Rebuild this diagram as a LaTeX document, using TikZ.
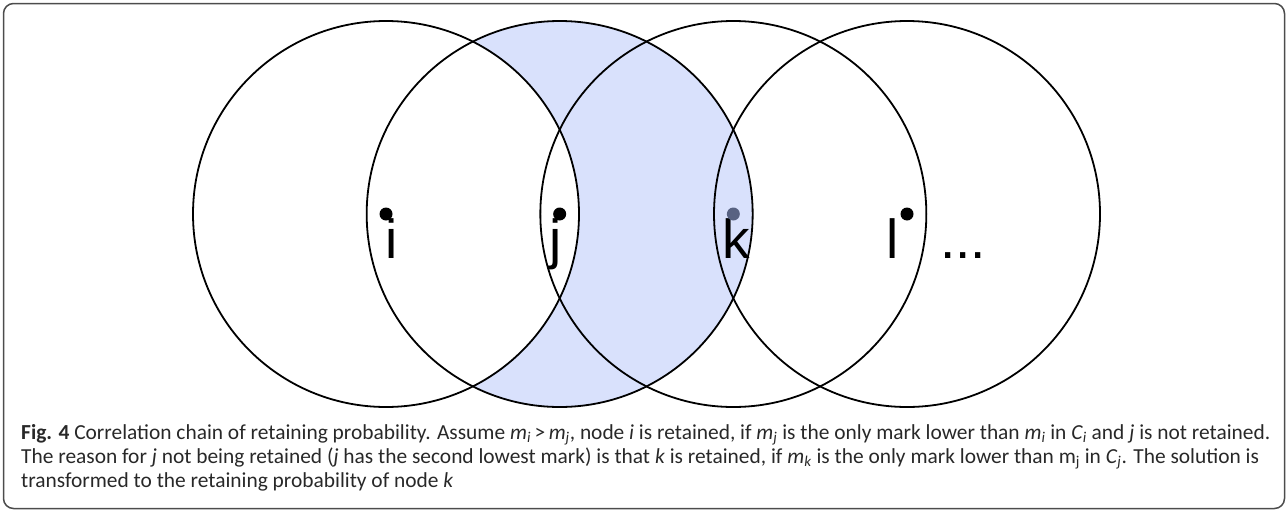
\documentclass[tikz,border=0pt]{standalone}
\usepackage{fontspec}
\usetikzlibrary{calc}
\setmainfont{Carlito}
\newfontfamily\labelfont{Liberation Sans}
\definecolor{shadeblue}{RGB}{217,225,252}
\definecolor{dotgrey}{RGB}{88,98,130}
\definecolor{captiongrey}{RGB}{40,40,40}
\newcommand{\capsub}[1]{\textsubscript{\textit{#1}}}
\tikzset{
    ringline/.style={line width=1.8pt, black},
    ptdot/.style={circle, fill=black, inner sep=0pt, minimum size=13pt},
    ptlabel/.style={anchor=base west, inner sep=0pt, font=\labelfont\fontsize{55}{60}\selectfont},
    capline/.style={anchor=base west, inner sep=0pt, text=captiongrey, font=\fontsize{21.4}{24}\selectfont}
}
\begin{document}
\begin{tikzpicture}[x=1pt,y=-1pt]
    \def\radiusA{193}
    \def\gapA{173.67}
    \def\rowA{214}

    \useasboundingbox (0,0) rectangle (1288,512);

    % centres of the four ranges
    \coordinate (ci) at (386,\rowA);
    \coordinate (cj) at ($(ci)+(\gapA,0)$);
    \coordinate (ck) at ($(cj)+(\gapA,0)$);
    \coordinate (cl) at ($(ck)+(\gapA,0)$);

    % C_j without C_i
    \fill[shadeblue] (cj) circle (\radiusA);
    \fill[white] (ci) circle (\radiusA);

    \foreach \c in {ci,cj,ck,cl}
        \draw[ringline] (\c) circle (\radiusA);

    \node[ptlabel] (li) at (385,258) {i};
    \node[ptlabel] (lj) at (549,258) {j};
    \node[ptlabel] (lk) at (722,258) {k};
    \node[ptlabel] (ll) at (886,258) {l};
    \node[ptlabel] (ldots) at (940,258) {...};

    \node[ptdot] (pi) at (ci) {};
    \node[ptdot] (pj) at (cj) {};
    \node[ptdot, fill=dotgrey] (pk) at (ck) {};
    \node[ptdot] (pl) at (cl) {};

    % caption
    \draw[line width=1.5pt, black!70, rounded corners=10pt] (3.5,3.5) rectangle (1284.5,508.5);
    \node[capline] (capA) at (21,439) {\textbf{Fig. 4} Correlation chain of retaining probability. Assume \textit{m}\capsub{i}\,>\,\textit{m}\capsub{j}, node \textit{i} is retained, if \textit{m}\capsub{j} is the only mark lower than \textit{m}\capsub{i} in \textit{C}\capsub{i} and \textit{j} is not retained.};
    \node[capline] (capB) at (21,463) {The reason for \textit{j} not being retained (\textit{j} has the second lowest mark) is that \textit{k} is retained, if \textit{m}\capsub{k} is the only mark lower than m\textsubscript{j} in \textit{C}\capsub{j}. The solution is};
    \node[capline] (capC) at (21,487) {transformed to the retaining probability of node \textit{k}};
\end{tikzpicture}
\end{document}
